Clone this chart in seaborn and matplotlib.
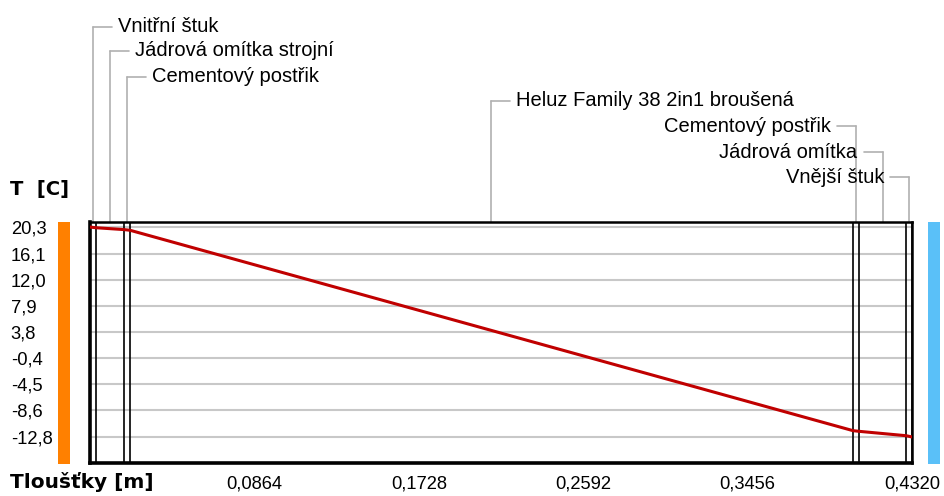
import numpy as np
import pandas as pd
import seaborn as sns
import matplotlib.pyplot as plt
from matplotlib.patches import Rectangle
from matplotlib.transforms import blended_transform_factory

# wall layers (inside -> outside) and their thickness in m
layer_names = ["Vnitřní štuk", "Jádrová omítka strojní", "Cementový postřik",
               "Heluz Family 38 2in1 broušená", "Cementový postřik",
               "Jádrová omítka", "Vnější štuk"]
layer_thickness = [0.003, 0.015, 0.003, 0.380, 0.003, 0.025, 0.003]

# temperature at each layer interface [C]
interface_temp = [20.3, 20.2, 19.9, 19.8, -11.8, -11.9, -12.6, -12.8]

y_ticks = [20.3, 16.1, 12.0, 7.9, 3.8, -0.4, -4.5, -8.6, -12.8]
y_ticklabels = ["20,3", "16,1", "12,0", "7,9", "3,8", "-0,4", "-4,5", "-8,6", "-12,8"]
x_ticks = [0.0864, 0.1728, 0.2592, 0.3456, 0.4320]
x_ticklabels = ["0,0864", "0,1728", "0,2592", "0,3456", "0,4320"]
x_minor = [0.0432, 0.1296, 0.2160, 0.3024, 0.3888]

# layout (pixels of the 944x496 picture)
W, H = 944, 496
label_rows = [27, 51, 77, 101, 126, 152, 177]
label_side = ["r", "r", "r", "r", "l", "l", "l"]

sns.set_style("white")
plt.rcParams['font.family'] = ['Liberation Sans', 'DejaVu Sans']
plt.rcParams['text.color'] = 'black'
plt.rcParams['xtick.labelcolor'] = 'black'
plt.rcParams['ytick.labelcolor'] = 'black'

bounds = np.concatenate([[0], np.cumsum(layer_thickness)])
df = pd.DataFrame({"x": bounds, "T": interface_temp})

fig = plt.figure(figsize=(W / 100, H / 100), dpi=100)
ax = fig.add_axes([90 / W, 1 - 463 / H, 822 / W, 241 / H])

ax.set_xlim(0, bounds[-1])
ax.set_ylim(-16.9, 21.1)

for yt in y_ticks:
    ax.axhline(yt, color="#c8c8c8", lw=1.5, zorder=1)
for xb in bounds:
    ax.axvline(xb, color="black", lw=1.2, zorder=2)

sns.lineplot(data=df, x="x", y="T", ax=ax, color="#c00000", lw=2.2, zorder=3)

for side in ["left", "bottom"]:
    ax.spines[side].set_linewidth(2.6)
for side in ["top", "right"]:
    ax.spines[side].set_linewidth(1.8)
for s in ax.spines.values():
    s.set_color("black")

ax.set_xticks(x_ticks)
ax.set_xticklabels(x_ticklabels, fontsize=13.2)
ax.set_xticks(x_minor, minor=True)
ax.tick_params(axis="x", which="both", direction="in", length=6, width=1,
               color="#a8a8a8", pad=9)
ax.set_yticks(y_ticks)
ax.set_yticklabels(y_ticklabels, fontsize=13.2, ha="left")
ax.tick_params(axis="y", length=0, pad=57)
ax.set_xlabel("")
ax.set_ylabel("")

# side colour bars
fig.add_artist(Rectangle((58 / W, 1 - 464 / H), 12 / W, 242 / H,
                         transform=fig.transFigure, color="#ff8000", lw=0))
fig.add_artist(Rectangle((928 / W, 1 - 464 / H), 12 / W, 242 / H,
                         transform=fig.transFigure, color="#5ac0f8", lw=0))

fig.text(10 / W, 1 - 190 / H, "T  [C]", fontsize=14, fontweight="bold",
         ha="left", va="center", family="DejaVu Sans")
fig.text(10 / W, 1 - 482 / H, "Tloušťky [m]", fontsize=14.5, fontweight="bold",
         ha="left", va="center", family="DejaVu Sans")

# layer labels with leader lines
trans = blended_transform_factory(ax.transData, fig.transFigure)
m_per_px = bounds[-1] / 822
centers = (bounds[:-1] + bounds[1:]) / 2
for name, xc, row, side in zip(layer_names, centers, label_rows, label_side):
    yf = 1 - row / H
    ax.plot([xc, xc], [yf, 1 - 222 / H], transform=trans, color="#b0b0b0",
            lw=1.2, clip_on=False)
    sgn = 1 if side == "r" else -1
    ax.plot([xc, xc + sgn * 19 * m_per_px], [yf, yf], transform=trans,
            color="#b0b0b0", lw=1.2, clip_on=False)
    ax.text(xc + sgn * 25 * m_per_px, yf, name, transform=trans, fontsize=14.5,
            ha="left" if side == "r" else "right", va="center")

fig.savefig("out.png", dpi=100)
